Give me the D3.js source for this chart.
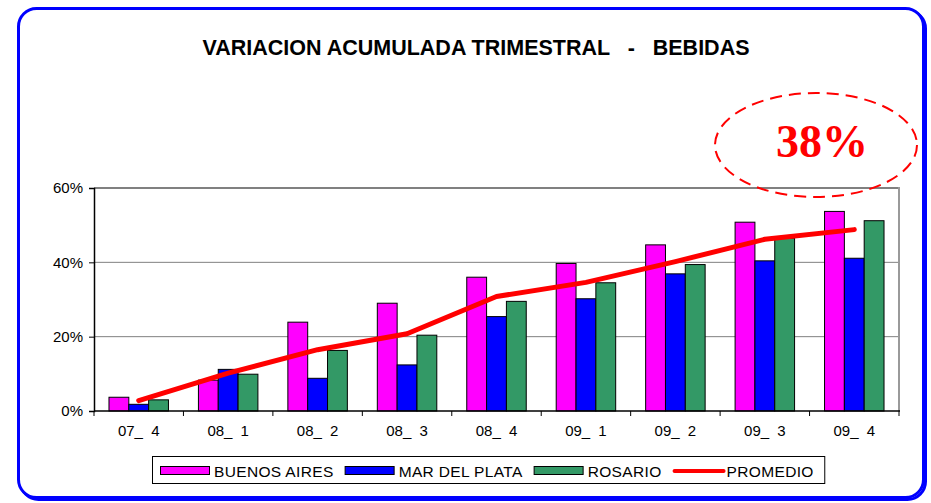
<!DOCTYPE html>
<html>
<head>
<meta charset="utf-8">
<script src="https://cdn.jsdelivr.net/npm/d3@7"></script>
<style>
  html, body { margin: 0; padding: 0; background: #fff; }
  svg text { font-family: Arial, "Liberation Sans", sans-serif; }
</style>
</head>
<body>
<div id="chart"></div>
<script>
// data
const categories = ["07_ 4", "08_ 1", "08_ 2", "08_ 3", "08_ 4", "09_ 1", "09_ 2", "09_ 3", "09_ 4"];
const buenosAires = [3.7, 8.3, 23.9, 29.0, 36.0, 39.7, 44.7, 50.8, 53.7];
const marDelPlata = [1.8, 11.2, 8.8, 12.4, 25.4, 30.2, 36.9, 40.4, 41.1];
const rosario = [3.0, 9.9, 16.3, 20.4, 29.5, 34.5, 39.4, 46.5, 51.2];
const promedio = [2.8, 10.2, 16.5, 20.8, 30.8, 34.6, 40.2, 46.2, 48.8];
const yTicks = [0, 20, 40, 60];
const seriesNames = ["BUENOS AIRES", "MAR DEL PLATA", "ROSARIO"];
const seriesColors = ["#ff00ff", "#0000ff", "#339966"];
const lineName = "PROMEDIO";
const annotation = "38%";

const width = 931, height = 503;
const plot = { left: 94, right: 899, top: 188, bottom: 411 };

const svg = d3.select("#chart").append("svg")
    .attr("width", width)
    .attr("height", height);

// blue rounded frame with a small shadow
svg.append("rect")
    .attr("x", 20.5).attr("y", 10.5)
    .attr("width", 905).attr("height", 489)
    .attr("rx", 18)
    .attr("fill", "none").attr("stroke", "#0000ff").attr("stroke-width", 3);
svg.append("rect")
    .attr("x", 18.5).attr("y", 8.5)
    .attr("width", 905).attr("height", 489)
    .attr("rx", 18)
    .attr("fill", "#fff").attr("stroke", "#0000ff").attr("stroke-width", 3);

// title
svg.append("text")
    .attr("x", 476).attr("y", 55)
    .attr("text-anchor", "middle")
    .attr("font-size", 21.5).attr("font-weight", "bold")
    .style("white-space", "pre")
    .text("VARIACION ACUMULADA TRIMESTRAL   -   BEBIDAS");

// scales
const x0 = d3.scaleBand()
    .domain(categories)
    .range([plot.left, plot.right])
    .paddingInner(0.335)
    .paddingOuter(0.1675);
const x1 = d3.scaleBand()
    .domain(d3.range(seriesNames.length))
    .range([0, x0.bandwidth()]);
const y = d3.scaleLinear().domain([0, 60]).range([plot.bottom, plot.top]);

const step = x0.step();

// gridlines
svg.append("g")
  .selectAll("line")
  .data(yTicks.filter(t => t > 0))
  .join("line")
    .attr("x1", plot.left).attr("x2", plot.right)
    .attr("y1", d => y(d)).attr("y2", d => y(d))
    .attr("stroke", "#808080")
    .attr("stroke-width", d => d === 60 ? 2 : 1);

// right frame of plot area
svg.append("line")
    .attr("x1", plot.right).attr("x2", plot.right)
    .attr("y1", plot.top - 1).attr("y2", plot.bottom)
    .attr("stroke", "#9a9a9a").attr("stroke-width", 2);

// bars
const groups = svg.append("g")
  .selectAll("g")
  .data(categories)
  .join("g")
    .attr("transform", d => `translate(${x0(d)},0)`);

groups.selectAll("rect")
  .data((d, i) => [buenosAires[i], marDelPlata[i], rosario[i]])
  .join("rect")
    .attr("x", (d, j) => x1(j))
    .attr("y", d => y(d))
    .attr("width", x1.bandwidth())
    .attr("height", d => y(0) - y(d))
    .attr("fill", (d, j) => seriesColors[j])
    .attr("stroke", "#000")
    .attr("stroke-width", 1);

// y axis
const yAxis = svg.append("g")
    .attr("transform", `translate(${plot.left},0)`)
    .call(d3.axisLeft(y).tickValues(yTicks).tickFormat(d => d + "%").tickSize(5).tickPadding(6));
yAxis.select(".domain").attr("stroke", "#000").attr("stroke-width", 1.5);
yAxis.selectAll("text").attr("font-size", 15).attr("fill", "#000");

// x axis
const xAxis = svg.append("g")
    .attr("transform", `translate(0,${plot.bottom})`);
xAxis.append("line")
    .attr("x1", plot.left).attr("x2", plot.right + 1)
    .attr("stroke", "#000").attr("stroke-width", 1.5);
xAxis.selectAll(".tick")
  .data(categories.concat(["end"]))
  .join("line")
    .attr("x1", (d, i) => plot.left + i * step)
    .attr("x2", (d, i) => plot.left + i * step)
    .attr("y1", 0).attr("y2", 5)
    .attr("stroke", "#000");
xAxis.selectAll("text")
  .data(categories)
  .join("text")
    .attr("x", d => x0(d) + x0.bandwidth() / 2)
    .attr("y", 25)
    .attr("text-anchor", "middle")
    .attr("font-size", 15)
    .attr("word-spacing", 4)
    .text(d => d);

// average line
const line = d3.line()
    .x((d, i) => x0(categories[i]) + x0.bandwidth() / 2)
    .y(d => y(d));
svg.append("path")
    .datum(promedio)
    .attr("d", line)
    .attr("fill", "none")
    .attr("stroke", "#ff0000")
    .attr("stroke-width", 5)
    .attr("stroke-linejoin", "round")
    .attr("stroke-linecap", "round");

// legend
const legend = svg.append("g");
const legendBox = legend.append("rect")
    .attr("y", 456.5).attr("height", 27)
    .attr("fill", "#fff").attr("stroke", "#000").attr("stroke-width", 1);
let lx = 160;
const items = seriesNames.map((n, i) => ({ name: n, color: seriesColors[i], type: "bar" }))
    .concat([{ name: lineName, color: "#ff0000", type: "line" }]);
items.forEach(it => {
  if (it.type === "bar") {
    legend.append("rect")
        .attr("x", lx + 0.5).attr("y", 466.5)
        .attr("width", 49).attr("height", 8)
        .attr("fill", it.color).attr("stroke", "#000");
  } else {
    legend.append("line")
        .attr("x1", lx + 2).attr("x2", lx + 51)
        .attr("y1", 471).attr("y2", 471)
        .attr("stroke", it.color).attr("stroke-width", 4)
        .attr("stroke-linecap", "round");
  }
  const t = legend.append("text")
      .attr("x", lx + 54).attr("y", 476.5)
      .attr("font-size", 15.5)
      .attr("letter-spacing", 0.35)
      .text(it.name);
  lx = lx + 54 + t.node().getComputedTextLength() + 11;
});
legendBox.attr("x", 152.5).attr("width", lx - 152.5);

// annotation
svg.append("text")
    .attr("x", 822).attr("y", 157)
    .attr("text-anchor", "middle")
    .style("font-family", "'Liberation Serif', 'Times New Roman', serif")
    .attr("font-size", 46).attr("font-weight", "bold")
    .attr("fill", "#ff0000")
    .text(annotation);
svg.append("ellipse")
    .attr("cx", 816).attr("cy", 145)
    .attr("rx", 101).attr("ry", 52)
    .attr("fill", "none")
    .attr("stroke", "#ff0000").attr("stroke-width", 2)
    .attr("stroke-dasharray", "12,7");
</script>
</body>
</html>
